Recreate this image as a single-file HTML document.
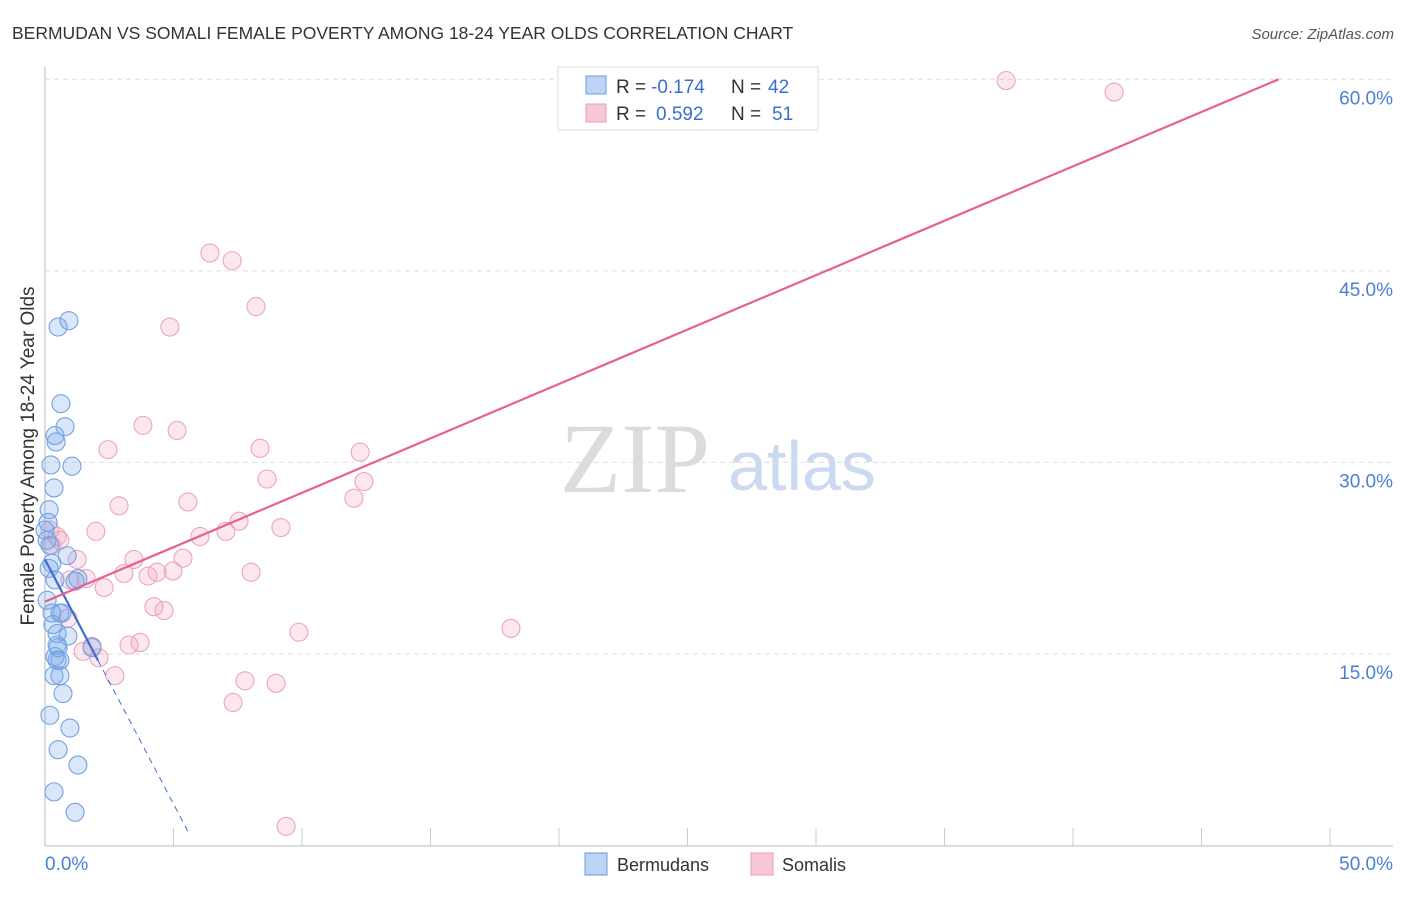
<!DOCTYPE html>
<html><head><meta charset="utf-8"><style>
body{margin:0;background:#fff;font-family:"Liberation Sans",sans-serif}
</style></head><body>
<svg id="c" width="1406" height="892" viewBox="0 0 1406 892" font-family="Liberation Sans, sans-serif">
<text x="12" y="39" font-size="17.5" fill="#333">BERMUDAN VS SOMALI FEMALE POVERTY AMONG 18-24 YEAR OLDS CORRELATION CHART</text>
<text x="1394" y="39" font-size="15" fill="#555" text-anchor="end" font-style="italic">Source: ZipAtlas.com</text>
<text x="34" y="456" font-size="19" fill="#333" text-anchor="middle" transform="rotate(-90 34 456)">Female Poverty Among 18-24 Year Olds</text>
<g><text x="635" y="492" font-size="100" fill="#dcdcdc" text-anchor="middle" font-family="Liberation Serif, serif">ZIP</text><text x="802" y="490" font-size="70" fill="#cbdaf0" text-anchor="middle">atlas</text></g>
<g id="grid"></g><g id="marks"></g>
<g>
<rect x="558" y="67" width="260" height="63" fill="#fff" stroke="#ddd"/>
<rect x="586" y="76" width="20" height="18" fill="#bcd4f5" stroke="#6a9de0"/>
<text x="616" y="93" font-size="19" fill="#333">R =</text><text x="651" y="93" font-size="19" fill="#3a6fd0">-0.174</text>
<text x="731" y="93" font-size="19" fill="#333">N =</text><text x="768" y="93" font-size="19" fill="#3a6fd0">42</text>
<rect x="586" y="104" width="20" height="18" fill="#f9c8d8" stroke="#e8a0b8"/>
<text x="616" y="120" font-size="19" fill="#333">R =</text><text x="656" y="120" font-size="19" fill="#3a6fd0">0.592</text>
<text x="731" y="120" font-size="19" fill="#333">N =</text><text x="772" y="120" font-size="19" fill="#3a6fd0">51</text>
</g>
<g>
<rect x="585" y="853" width="22" height="22" fill="#bcd4f5" stroke="#6a9de0"/><text x="617" y="871" font-size="18" fill="#333">Bermudans</text>
<rect x="751" y="853" width="22" height="22" fill="#f9c8d8" stroke="#e8a0b8"/><text x="782" y="871" font-size="18" fill="#333">Somalis</text>
</g>
</svg>
<script>
const xTicks=[0,5,10,15,20,25,30,35,40,45,50];
const yTicks=[15,30,45,60];
const blueX=[0.93,0.51,0.62,0.39,0.78,0.43,1.05,0.23,0.35,0.16,0.12,0.19,0.08,0.86,0.27,0.16,1.28,1.17,0.58,0.66,0.89,0.47,0.51,0.39,0.47,0.35,0.58,0.70,0.97,0.19,0.51,1.28,0.35,1.17,1.83,0.08,0.31,0.47,0.27,0.0,0.58,0.39];
const blueY=[41.1,40.6,34.6,32.1,32.8,31.6,29.7,29.8,28.0,26.3,25.3,23.5,23.9,22.7,22.1,21.7,20.9,20.7,18.2,18.2,16.4,16.6,15.5,14.8,14.5,13.3,13.3,11.9,9.2,10.2,7.5,6.3,4.2,2.6,15.5,19.2,17.3,15.7,18.2,24.7,14.5,20.8];
const pinkX=[37.4,41.6,6.42,7.28,8.21,4.86,3.81,5.14,2.45,8.37,12.26,8.64,12.41,12.02,5.56,2.88,9.18,1.98,7.55,7.04,6.03,0.47,0.19,0.27,3.46,5.37,1.25,4.36,3.07,4.98,4.01,8.02,1.60,2.30,4.24,4.63,0.89,9.88,18.13,1.83,3.27,3.70,1.48,2.10,2.72,7.78,8.99,7.32,9.38,0.97,0.58];
const pinkY=[59.9,59.0,46.4,45.8,42.2,40.6,32.9,32.5,31.0,31.1,30.8,28.7,28.5,27.2,26.9,26.6,24.9,24.6,25.4,24.6,24.2,24.2,24.7,23.5,22.4,22.5,22.4,21.4,21.3,21.5,21.1,21.4,20.9,20.2,18.7,18.4,17.8,16.7,17.0,15.6,15.7,15.9,15.2,14.7,13.3,12.9,12.7,11.2,1.5,20.8,23.9];
const blueTrend=[0,22.4,2.06,14.5,5.64,0.8];
const pinkTrend=[0,19.1,48,60.0];
const X=v=>45+v*25.7, Y=v=>845.5-v*12.77;
const NS='http://www.w3.org/2000/svg';
function mk(tag,attrs,parent){const e=document.createElementNS(NS,tag);for(const k in attrs)e.setAttribute(k,attrs[k]);parent.appendChild(e);return e;}
const g=document.getElementById('grid'), m=document.getElementById('marks');
let a=mk('line',{x1:45,y1:67,x2:45,y2:846,stroke:'#bbb'},g);


a=mk('line',{x1:45,y1:846,x2:1393,y2:846,stroke:'#bbb'},g);


yTicks.forEach(t=>{const l=mk('line',{x1:45,y1:Y(t),x2:1393,y2:Y(t),stroke:'#ddd','stroke-dasharray':'5,4'},g);


const tx=mk('text',{x:1393,y:Y(t)+25,'font-size':19,fill:'#4a7fd4','text-anchor':'end'},g);tx.textContent=t.toFixed(1)+'%';

});
xTicks.forEach(t=>{if(t>0){const l=mk('line',{x1:X(t),y1:828,x2:X(t),y2:846,stroke:'#ccc'},g);

}});
[[0,'start',45],[50,'end',1393]].forEach(([t,anc,px])=>{const tx=mk('text',{x:px,y:870,'font-size':19,fill:'#4a7fd4','text-anchor':anc},g);tx.textContent=t.toFixed(1)+'%';

});
pinkX.forEach((v,i)=>{const c=mk('circle',{cx:X(v),cy:Y(pinkY[i]),r:9,fill:'rgba(244,170,195,0.28)',stroke:'#eaa5bd','stroke-width':1.1},m);

});
blueX.forEach((v,i)=>{const c=mk('circle',{cx:X(v),cy:Y(blueY[i]),r:9,fill:'rgba(120,168,235,0.28)',stroke:'#72a2e2','stroke-width':1.1},m);

});
let l=mk('line',{x1:X(blueTrend[0]),y1:Y(blueTrend[1]),x2:X(blueTrend[2]),y2:Y(blueTrend[3]),stroke:'#3a6fd0','stroke-width':2.2},m);


l=mk('line',{x1:X(blueTrend[2]),y1:Y(blueTrend[3]),x2:X(blueTrend[4]),y2:Y(blueTrend[5]),stroke:'#3a6fd0','stroke-width':1,'stroke-dasharray':'6,5'},m);


l=mk('line',{x1:X(pinkTrend[0]),y1:Y(pinkTrend[1]),x2:X(pinkTrend[2]),y2:Y(pinkTrend[3]),stroke:'#e8608e','stroke-width':2.2},m);


</script>
</body></html>
